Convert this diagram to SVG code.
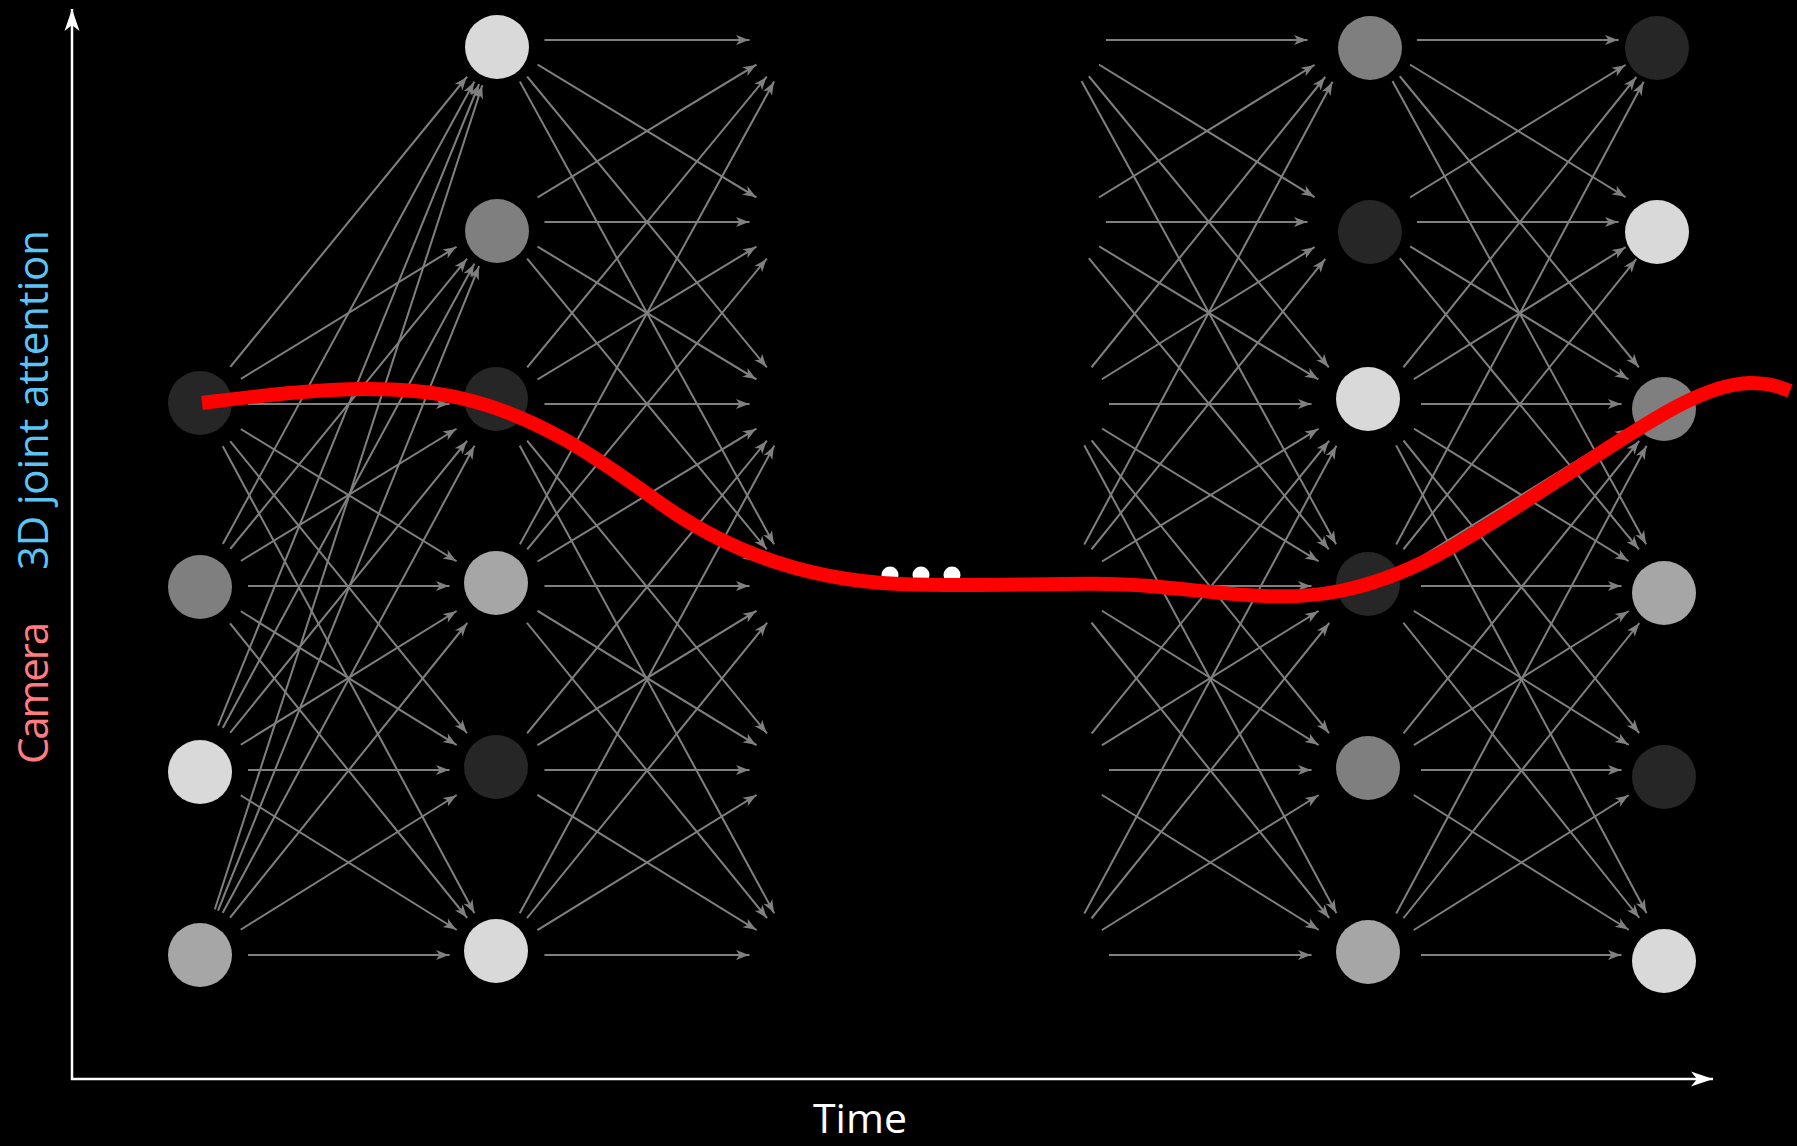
<svg xmlns="http://www.w3.org/2000/svg" width="1797" height="1146" viewBox="0 0 1797 1146">
<style>
.conn line{stroke:#808080;stroke-width:2;marker-end:url(#ah);}
.k1{fill:#262626}.k2{fill:#7f7f7f}.k3{fill:#a6a6a6}.k4{fill:#d9d9d9}
.lbl{font-family:"Open Sans","DejaVu Sans",sans-serif;}
</style>
<defs>
<marker id="ah" markerUnits="userSpaceOnUse" orient="auto" refX="48" refY="0" markerWidth="1" markerHeight="1" style="overflow:visible">
<path d="M0,0 L-13,-5 L-9.5,0 L-13,5 Z" fill="#808080"/>
</marker>
<marker id="axh" markerUnits="userSpaceOnUse" orient="auto" refX="0" refY="0" markerWidth="1" markerHeight="1" style="overflow:visible">
<path d="M0,0 L-22,-7.5 L-16,0 L-22,7.5 Z" fill="#ffffff"/>
</marker>
<mask id="ends" maskUnits="userSpaceOnUse" x="0" y="0" width="1797" height="1146">
<rect x="0" y="0" width="1797" height="1146" fill="#fff"/>
<g fill="#000">
<circle cx="200" cy="404" r="48"/><circle cx="200" cy="586" r="48"/><circle cx="200" cy="770" r="48"/><circle cx="200" cy="955" r="48"/>
<circle cx="497" cy="40" r="47.5"/><circle cx="497" cy="222" r="47.5"/><circle cx="497" cy="404" r="47.5"/><circle cx="497" cy="586" r="47.5"/><circle cx="497" cy="770" r="47.5"/><circle cx="497" cy="955" r="47.5"/>
<circle cx="797" cy="40" r="47.5"/><circle cx="797" cy="222" r="47.5"/><circle cx="797" cy="404" r="47.5"/><circle cx="797" cy="586" r="47.5"/><circle cx="797" cy="770" r="47.5"/><circle cx="797" cy="955" r="47.5"/>
<circle cx="1059" cy="40" r="47"/><circle cx="1059" cy="222" r="47"/><circle cx="1062" cy="404" r="47"/><circle cx="1062" cy="586" r="47"/><circle cx="1062" cy="770" r="47"/><circle cx="1062" cy="955" r="47"/>
<circle cx="1355" cy="40" r="47.5"/><circle cx="1355" cy="222" r="47.5"/><circle cx="1359" cy="404" r="47.5"/><circle cx="1359" cy="586" r="47.5"/><circle cx="1359" cy="770" r="47.5"/><circle cx="1359" cy="955" r="47.5"/>
<circle cx="1370" cy="40" r="47"/><circle cx="1370" cy="222" r="47"/><circle cx="1374" cy="404" r="47"/><circle cx="1374" cy="586" r="47"/><circle cx="1374" cy="770" r="47"/><circle cx="1374" cy="955" r="47"/>
<circle cx="1666" cy="40" r="47.5"/><circle cx="1666" cy="222" r="47.5"/><circle cx="1669" cy="404" r="47.5"/><circle cx="1669" cy="586" r="47.5"/><circle cx="1669" cy="770" r="47.5"/><circle cx="1669" cy="955" r="47.5"/>
</g>
</mask>
</defs>
<rect x="0" y="0" width="1797" height="1146" fill="#000"/>

<g id="connectors" class="conn" mask="url(#ends)">
<!-- A to B -->
<line x1="200" y1="404" x2="497" y2="40"/><line x1="200" y1="404" x2="497" y2="222"/><line x1="200" y1="404" x2="497" y2="404"/><line x1="200" y1="404" x2="497" y2="586"/><line x1="200" y1="404" x2="497" y2="770"/><line x1="200" y1="404" x2="497" y2="955"/>
<line x1="200" y1="586" x2="497" y2="40"/><line x1="200" y1="586" x2="497" y2="222"/><line x1="200" y1="586" x2="497" y2="404"/><line x1="200" y1="586" x2="497" y2="586"/><line x1="200" y1="586" x2="497" y2="770"/><line x1="200" y1="586" x2="497" y2="955"/>
<line x1="200" y1="770" x2="497" y2="40"/><line x1="200" y1="770" x2="497" y2="222"/><line x1="200" y1="770" x2="497" y2="404"/><line x1="200" y1="770" x2="497" y2="586"/><line x1="200" y1="770" x2="497" y2="770"/><line x1="200" y1="770" x2="497" y2="955"/>
<line x1="200" y1="955" x2="497" y2="40"/><line x1="200" y1="955" x2="497" y2="222"/><line x1="200" y1="955" x2="497" y2="404"/><line x1="200" y1="955" x2="497" y2="586"/><line x1="200" y1="955" x2="497" y2="770"/><line x1="200" y1="955" x2="497" y2="955"/>
<!-- B to next layer -->
<line x1="497" y1="40" x2="797" y2="40"/><line x1="497" y1="40" x2="797" y2="222"/><line x1="497" y1="40" x2="797" y2="404"/><line x1="497" y1="40" x2="797" y2="586"/>
<line x1="497" y1="222" x2="797" y2="40"/><line x1="497" y1="222" x2="797" y2="222"/><line x1="497" y1="222" x2="797" y2="404"/><line x1="497" y1="222" x2="797" y2="586"/>
<line x1="497" y1="404" x2="797" y2="40"/><line x1="497" y1="404" x2="797" y2="222"/><line x1="497" y1="404" x2="797" y2="404"/><line x1="497" y1="404" x2="797" y2="586"/><line x1="497" y1="404" x2="797" y2="770"/><line x1="497" y1="404" x2="797" y2="955"/>
<line x1="497" y1="586" x2="797" y2="40"/><line x1="497" y1="586" x2="797" y2="222"/><line x1="497" y1="586" x2="797" y2="404"/><line x1="497" y1="586" x2="797" y2="586"/><line x1="497" y1="586" x2="797" y2="770"/><line x1="497" y1="586" x2="797" y2="955"/>
<line x1="497" y1="770" x2="797" y2="404"/><line x1="497" y1="770" x2="797" y2="586"/><line x1="497" y1="770" x2="797" y2="770"/><line x1="497" y1="770" x2="797" y2="955"/>
<line x1="497" y1="955" x2="797" y2="404"/><line x1="497" y1="955" x2="797" y2="586"/><line x1="497" y1="955" x2="797" y2="770"/><line x1="497" y1="955" x2="797" y2="955"/>
<!-- previous layer to C -->
<line x1="1059" y1="40" x2="1355" y2="40"/><line x1="1059" y1="40" x2="1355" y2="222"/><line x1="1059" y1="40" x2="1359" y2="404"/><line x1="1059" y1="40" x2="1359" y2="586"/>
<line x1="1059" y1="222" x2="1355" y2="40"/><line x1="1059" y1="222" x2="1355" y2="222"/><line x1="1059" y1="222" x2="1359" y2="404"/><line x1="1059" y1="222" x2="1359" y2="586"/>
<line x1="1062" y1="404" x2="1355" y2="40"/><line x1="1062" y1="404" x2="1355" y2="222"/><line x1="1062" y1="404" x2="1359" y2="404"/><line x1="1062" y1="404" x2="1359" y2="586"/><line x1="1062" y1="404" x2="1359" y2="770"/><line x1="1062" y1="404" x2="1359" y2="955"/>
<line x1="1062" y1="586" x2="1355" y2="40"/><line x1="1062" y1="586" x2="1355" y2="222"/><line x1="1062" y1="586" x2="1359" y2="404"/><line x1="1062" y1="586" x2="1359" y2="586"/><line x1="1062" y1="586" x2="1359" y2="770"/><line x1="1062" y1="586" x2="1359" y2="955"/>
<line x1="1062" y1="770" x2="1359" y2="404"/><line x1="1062" y1="770" x2="1359" y2="586"/><line x1="1062" y1="770" x2="1359" y2="770"/><line x1="1062" y1="770" x2="1359" y2="955"/>
<line x1="1062" y1="955" x2="1359" y2="404"/><line x1="1062" y1="955" x2="1359" y2="586"/><line x1="1062" y1="955" x2="1359" y2="770"/><line x1="1062" y1="955" x2="1359" y2="955"/>
<!-- C to D -->
<line x1="1370" y1="40" x2="1666" y2="40"/><line x1="1370" y1="40" x2="1666" y2="222"/><line x1="1370" y1="40" x2="1669" y2="404"/><line x1="1370" y1="40" x2="1669" y2="586"/>
<line x1="1370" y1="222" x2="1666" y2="40"/><line x1="1370" y1="222" x2="1666" y2="222"/><line x1="1370" y1="222" x2="1669" y2="404"/><line x1="1370" y1="222" x2="1669" y2="586"/>
<line x1="1374" y1="404" x2="1666" y2="40"/><line x1="1374" y1="404" x2="1666" y2="222"/><line x1="1374" y1="404" x2="1669" y2="404"/><line x1="1374" y1="404" x2="1669" y2="586"/><line x1="1374" y1="404" x2="1669" y2="770"/><line x1="1374" y1="404" x2="1669" y2="955"/>
<line x1="1374" y1="586" x2="1666" y2="40"/><line x1="1374" y1="586" x2="1666" y2="222"/><line x1="1374" y1="586" x2="1669" y2="404"/><line x1="1374" y1="586" x2="1669" y2="586"/><line x1="1374" y1="586" x2="1669" y2="770"/><line x1="1374" y1="586" x2="1669" y2="955"/>
<line x1="1374" y1="770" x2="1669" y2="404"/><line x1="1374" y1="770" x2="1669" y2="586"/><line x1="1374" y1="770" x2="1669" y2="770"/><line x1="1374" y1="770" x2="1669" y2="955"/>
<line x1="1374" y1="955" x2="1669" y2="404"/><line x1="1374" y1="955" x2="1669" y2="586"/><line x1="1374" y1="955" x2="1669" y2="770"/><line x1="1374" y1="955" x2="1669" y2="955"/>
</g>

<g id="nodes">
<g id="A1"><circle class="k1" cx="200" cy="403" r="32"/></g>
<g id="A2"><circle class="k2" cx="200" cy="587" r="32"/></g>
<g id="A3"><circle class="k4" cx="200" cy="772" r="32"/></g>
<g id="A4"><circle class="k3" cx="200" cy="955" r="32"/></g>
<g id="B1"><circle class="k4" cx="497" cy="47" r="32"/></g>
<g id="B2"><circle class="k2" cx="497" cy="231" r="32"/></g>
<g id="B3"><circle class="k1" cx="496" cy="399" r="32"/></g>
<g id="B4"><circle class="k3" cx="496" cy="583" r="32"/></g>
<g id="B5"><circle class="k1" cx="496" cy="767" r="32"/></g>
<g id="B6"><circle class="k4" cx="496" cy="951" r="32"/></g>
<g id="C1"><circle class="k2" cx="1370" cy="48" r="32"/></g>
<g id="C2"><circle class="k1" cx="1370" cy="232" r="32"/></g>
<g id="C3"><circle class="k4" cx="1368" cy="399" r="32"/></g>
<g id="C4"><circle class="k1" cx="1368" cy="584" r="32"/></g>
<g id="C5"><circle class="k2" cx="1368" cy="768" r="32"/></g>
<g id="C6"><circle class="k3" cx="1368" cy="952" r="32"/></g>
<g id="D1"><circle class="k1" cx="1657" cy="48" r="32"/></g>
<g id="D2"><circle class="k4" cx="1657" cy="232" r="32"/></g>
<g id="D3"><circle class="k2" cx="1664" cy="409" r="32"/></g>
<g id="D4"><circle class="k3" cx="1664" cy="593" r="32"/></g>
<g id="D5"><circle class="k1" cx="1664" cy="777" r="32"/></g>
<g id="D6"><circle class="k4" cx="1664" cy="961" r="32"/></g>
</g>

<g id="ellipsis" fill="#fff">
<circle cx="890" cy="575" r="8.5"/><circle cx="921" cy="575" r="8.5"/><circle cx="952" cy="575" r="8.5"/>
</g>

<path id="camera-path" d="M202,403 C280,393 380,380 460,398 C540,416 600,460 660,503 C720,546 800,580 900,584 C1000,588 1080,580 1150,586 C1220,592 1280,603 1340,591 C1420,575 1480,530 1560,479 C1640,428 1700,384 1750,383 C1770,383 1780,387 1790,391" fill="none" stroke="#ff0000" stroke-width="14"/>

<g id="axes" stroke="#fff" stroke-width="2.5" fill="none">
<line x1="72" y1="1080" x2="72" y2="9" marker-end="url(#axh)"/>
<line x1="71" y1="1079" x2="1713" y2="1079" marker-end="url(#axh)"/>
</g>

<text class="lbl" x="860" y="1133" font-size="41" fill="#fff" text-anchor="middle">Time</text>
<text class="lbl" transform="translate(48,764) rotate(-90)" font-size="42" fill="#ff7c80" textLength="142" lengthAdjust="spacing">Camera</text>
<text class="lbl" transform="translate(48,570) rotate(-90)" font-size="42" fill="#5bc4f5" textLength="340" lengthAdjust="spacing">3D joint attention</text>
</svg>
